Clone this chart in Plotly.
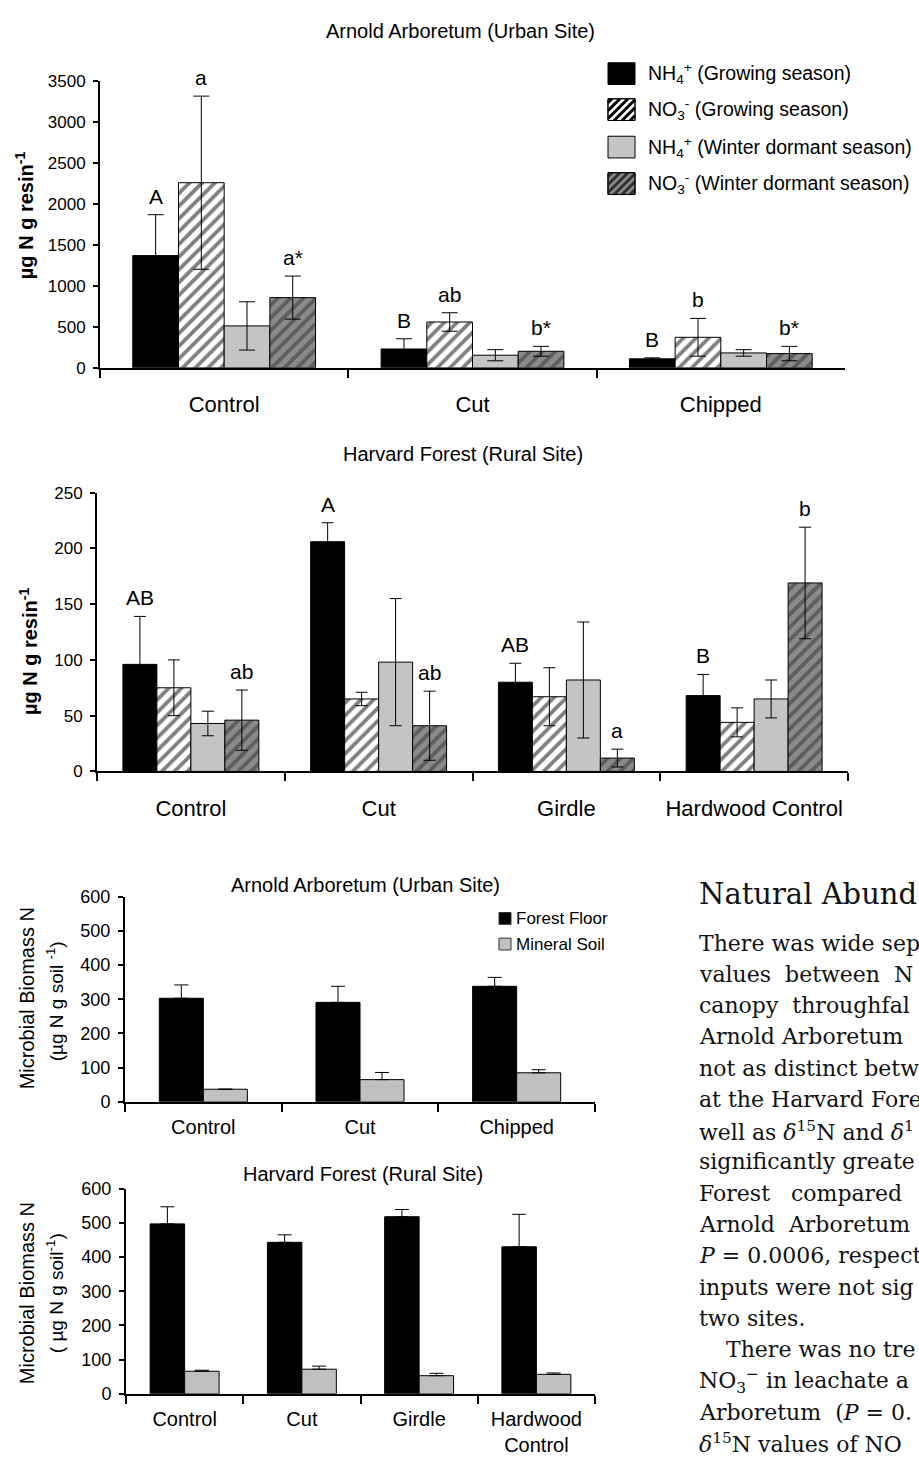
import plotly.graph_objects as go

W, H = 919, 1463


def fx(p):
    return p / W


def fy(p):
    return 1 - p / H


# ---------------- DATA ----------------
resin_series = [
    "NH<sub>4</sub><sup>+</sup> (Growing season)",
    "NO<sub>3</sub><sup>-</sup> (Growing season)",
    "NH<sub>4</sub><sup>+</sup> (Winter dormant season)",
    "NO<sub>3</sub><sup>-</sup> (Winter dormant season)",
]

# Arnold Arboretum resin (µg N g resin-1)
aa_cats = ["Control", "Cut", "Chipped"]
aa_nh4_grow = [1370, 229, 109]
aa_nh4_grow_err = [500, 125, 12]
aa_no3_grow = [2261, 559, 372]
aa_no3_grow_err = [1058, 113, 231]
aa_nh4_wint = [511, 153, 181]
aa_nh4_wint_err = [295, 68, 40]
aa_no3_wint = [857, 201, 173]
aa_no3_wint_err = [263, 60, 88]
aa_letters_nh4_grow = ["A", "B", "B"]
aa_letters_no3_grow = ["a", "ab", "b"]
aa_letters_no3_wint = ["a*", "b*", "b*"]

# Harvard Forest resin
hf_cats = ["Control", "Cut", "Girdle", "Hardwood Control"]
hf_nh4_grow = [96, 206, 80, 68]
hf_nh4_grow_err = [43, 17, 17, 19]
hf_no3_grow = [75, 65, 67, 44]
hf_no3_grow_err = [25, 6, 26, 13]
hf_nh4_wint = [43, 98, 82, 65]
hf_nh4_wint_err = [11, 57, 52, 17]
hf_no3_wint = [46, 41, 12, 169]
hf_no3_wint_err = [27, 31, 8, 50]
hf_letters_nh4_grow = ["AB", "A", "AB", "B"]
hf_letters_no3_wint = ["ab", "ab", "a", "b"]

# Microbial biomass N
mb_series = ["Forest Floor", "Mineral Soil"]
mb_aa_cats = ["Control", "Cut", "Chipped"]
mb_aa_ff = [303, 291, 338]
mb_aa_ff_err = [39, 47, 26]
mb_aa_ms = [37, 65, 85]
mb_aa_ms_err = [0, 21, 9]

mb_hf_cats = ["Control", "Cut", "Girdle", "Hardwood<br>Control"]
mb_hf_ff = [497, 443, 518, 430]
mb_hf_ff_err = [50, 22, 21, 95]
mb_hf_ms = [66, 72, 53, 57]
mb_hf_ms_err = [3, 9, 7, 4]

text_heading = "Natural Abund"
text_lines = [
    "There was wide sep",
    "values  between  N",
    "canopy  throughfal",
    "Arnold Arboretum",
    "not as distinct betw",
    "at the Harvard Fore",
    "well as <i>δ</i><sup>15</sup>N and <i>δ</i><sup>1</sup>",
    "significantly greate",
    "Forest   compared",
    "Arnold  Arboretum",
    "<i>P</i> = 0.0006, respect",
    "inputs were not sig",
    "two sites.",
    "There was no tre",
    "NO<sub>3</sub><sup>−</sup> in leachate a",
    "Arboretum  (<i>P</i> = 0.",
    "<i>δ</i><sup>15</sup>N values of NO",
]

# ---------------- STYLE ----------------
SANS = "Liberation Sans, Arial, sans-serif"
SERIF = "DejaVu Serif, serif"
BLACK = "#000000"
LGRAY = "#c4c4c4"
DGRAY = "#8a8a8a"

styles = [
    dict(color=BLACK, pattern=None),
    dict(color="white", pattern=dict(shape="/", fgcolor="black", bgcolor="white", size=9, solidity=0.42)),
    dict(color=LGRAY, pattern=None),
    dict(color=DGRAY, pattern=dict(shape="/", fgcolor="#303030", bgcolor=DGRAY, size=9, solidity=0.42)),
]

fig = go.Figure()


def add_bars(ax, cats, ys, errs, names, styl, width, capw, symmetric):
    n = len(ys)
    offs = [(-n / 2 + i) * width for i in range(n)]
    for i in range(n):
        marker = dict(color=styl[i]["color"], line=dict(color="black", width=1))
        if styl[i]["pattern"]:
            marker["pattern"] = styl[i]["pattern"]
        if symmetric:
            ey = dict(type="data", array=errs[i], color="black", thickness=1, width=capw)
        else:
            ey = dict(type="data", symmetric=False, array=errs[i], arrayminus=[0] * len(errs[i]),
                      color="black", thickness=1, width=capw)
        fig.add_trace(go.Bar(
            x=cats, y=ys[i], name=names[i], xaxis="x" + ax, yaxis="y" + ax,
            offset=offs[i], width=width, marker=marker, error_y=ey, showlegend=False,
        ))
    return offs


def add_letters(ax, letters, ys, errs, off, width, size):
    for j, lt in enumerate(letters):
        fig.add_annotation(
            x=j + off + width / 2, y=ys[j] + errs[j], xref="x" + ax, yref="y" + ax,
            text=lt, showarrow=False, yanchor="bottom", yshift=5,
            font=dict(family=SANS, size=size, color="black"),
        )


# Chart 1
w1 = 0.184
offs1 = add_bars("", aa_cats,
                 [aa_nh4_grow, aa_no3_grow, aa_nh4_wint, aa_no3_wint],
                 [aa_nh4_grow_err, aa_no3_grow_err, aa_nh4_wint_err, aa_no3_wint_err],
                 resin_series, styles, w1, 8, True)
add_letters("", aa_letters_nh4_grow, aa_nh4_grow, aa_nh4_grow_err, offs1[0], w1, 21)
add_letters("", aa_letters_no3_grow, aa_no3_grow, aa_no3_grow_err, offs1[1], w1, 21)
add_letters("", aa_letters_no3_wint, aa_no3_wint, aa_no3_wint_err, offs1[3], w1, 21)

# Chart 2
w2 = 0.181
offs2 = add_bars("2", hf_cats,
                 [hf_nh4_grow, hf_no3_grow, hf_nh4_wint, hf_no3_wint],
                 [hf_nh4_grow_err, hf_no3_grow_err, hf_nh4_wint_err, hf_no3_wint_err],
                 resin_series, styles, w2, 6, True)
add_letters("2", hf_letters_nh4_grow, hf_nh4_grow, hf_nh4_grow_err, offs2[0], w2, 21)
add_letters("2", hf_letters_no3_wint, hf_no3_wint, hf_no3_wint_err, offs2[3], w2, 21)

# Chart 3
mb_styles = [dict(color=BLACK, pattern=None), dict(color="#c0c0c0", pattern=None)]
w3 = 0.281
add_bars("3", mb_aa_cats, [mb_aa_ff, mb_aa_ms], [mb_aa_ff_err, mb_aa_ms_err], mb_series, mb_styles, w3, 7, False)

# Chart 4
w4 = 0.294
add_bars("4", mb_hf_cats, [mb_hf_ff, mb_hf_ms], [mb_hf_ff_err, mb_hf_ms_err], mb_series, mb_styles, w4, 7, False)


def xaxis_cfg(dom, anchor, n, fsize, standoff):
    return dict(domain=dom, anchor=anchor, type="category", range=[-0.5, n - 0.5],
                showline=True, linewidth=2, linecolor="black", ticks="outside", tickson="boundaries",
                ticklen=8, tickwidth=1.5, tickcolor="black", showgrid=False, zeroline=False,
                tickfont=dict(family=SANS, size=fsize, color="black"), ticklabelstandoff=standoff,
                fixedrange=True)


def yaxis_cfg(dom, anchor, rng, dt, fsize):
    return dict(domain=dom, anchor=anchor, range=rng, dtick=dt, tick0=0, showline=True, linewidth=2,
                linecolor="black", ticks="outside", ticklen=5, tickwidth=1.5, tickcolor="black",
                showgrid=False, zeroline=False, tickfont=dict(family=SANS, size=fsize, color="black"),
                ticklabelstandoff=4, fixedrange=True)


fig.update_layout(
    width=W, height=H, autosize=False, margin=dict(l=0, r=0, t=0, b=0),
    paper_bgcolor="white", plot_bgcolor="white", barmode="overlay", showlegend=False,
    xaxis=xaxis_cfg([fx(100), fx(845)], "y", 3, 22, 16),
    yaxis=yaxis_cfg([fy(362.7), fy(72.3)], "x", [0, 3500], 500, 17),
    xaxis2=xaxis_cfg([fx(97), fx(848)], "y2", 4, 22, 16),
    yaxis2=yaxis_cfg([fy(772), fy(489.3)], "x2", [0, 250], 50, 17),
    xaxis3=xaxis_cfg([fx(125), fx(595)], "y3", 3, 20, 6),
    yaxis3=yaxis_cfg([fy(1107), fy(899)], "x3", [0, 600], 100, 18),
    xaxis4=xaxis_cfg([fx(126), fx(595)], "y4", 4, 20, 6),
    yaxis4=yaxis_cfg([fy(1403), fy(1195)], "x4", [0, 600], 100, 18),
)


def paper_text(x, y, text, size, family=SANS, xanchor="center", angle=0, color="black"):
    fig.add_annotation(x=fx(x), y=fy(y), xref="paper", yref="paper", text=text, showarrow=False,
                       xanchor=xanchor, yanchor="middle", textangle=angle,
                       font=dict(family=family, size=size, color=color))


# Titles
paper_text(461, 21, "Arnold Arboretum (Urban Site)", 20)
paper_text(463, 450, "Harvard Forest (Rural Site)", 20)
paper_text(365, 887, "Arnold Arboretum (Urban Site)", 20)
paper_text(363, 1180, "Harvard Forest (Rural Site)", 20)

# Y axis titles
paper_text(24, 208, "<b>µg N g resin<sup>-1</sup></b>", 20, angle=-90)
paper_text(28, 650, "<b>µg N g resin<sup>-1</sup></b>", 20, angle=-90)
paper_text(27, 1002, "Microbial Biomass N", 20, angle=-90)
paper_text(55, 1005, "(µg N g soil <sup>-1</sup>)", 19, angle=-90)
paper_text(27, 1301, "Microbial Biomass N", 20, angle=-90)
paper_text(55, 1301, "( µg N g soil<sup>-1</sup>)", 19, angle=-90)


# Custom legend (chart 1)
def hatch_path(x0, y0, x1, y1, step):
    parts = []
    c = x0 + y0 + step / 2
    while c < x1 + y1:
        xa = max(x0, c - y1)
        xb = min(x1, c - y0)
        if xb > xa:
            parts.append("M%.5f,%.5f L%.5f,%.5f" % (fx(xa), fy(c - xa), fx(xb), fy(c - xb)))
        c += step
    return " ".join(parts)


leg_rows = [64.5, 101, 139, 176]
leg_fill = [BLACK, "white", LGRAY, DGRAY]
leg_hatch = [None, "black", None, "#303030"]
for i, name in enumerate(resin_series):
    yc = leg_rows[i]
    x0, x1, y0, y1 = 608, 635, yc - 11, yc + 11
    fig.add_shape(type="rect", xref="paper", yref="paper", x0=fx(x0), x1=fx(x1), y0=fy(y1), y1=fy(y0),
                  fillcolor=leg_fill[i], line=dict(color="black", width=1))
    if leg_hatch[i]:
        fig.add_shape(type="path", xref="paper", yref="paper", path=hatch_path(x0, y0, x1, y1, 8),
                      line=dict(color=leg_hatch[i], width=3))
        fig.add_shape(type="rect", xref="paper", yref="paper", x0=fx(x0), x1=fx(x1), y0=fy(y1), y1=fy(y0),
                      fillcolor="rgba(0,0,0,0)", line=dict(color="black", width=1))
    paper_text(646, yc, name, 19.5, xanchor="left")

# Custom legend (chart 3)
mb_rows = [921, 947]
mb_fill = [BLACK, "#c0c0c0"]
for i, name in enumerate(mb_series):
    yc = mb_rows[i]
    fig.add_shape(type="rect", xref="paper", yref="paper", x0=fx(499), x1=fx(511), y0=fy(yc + 6),
                  y1=fy(yc - 6), fillcolor=mb_fill[i], line=dict(color="#333", width=1))
    paper_text(514, yc, name, 17, xanchor="left")

# Text block
paper_text(697, 896, text_heading, 29, family=SERIF, xanchor="left", color="#111")
for k, line in enumerate(text_lines):
    x = 724 if k == 13 else 697
    paper_text(x, 946 + k * 31.7, line, 22, family=SERIF, xanchor="left", color="#111")

fig.write_html(
    "out.html",
    config={"displayModeBar": False},
    post_script="document.body.style.margin='0px';document.body.style.overflow='hidden';",
)
